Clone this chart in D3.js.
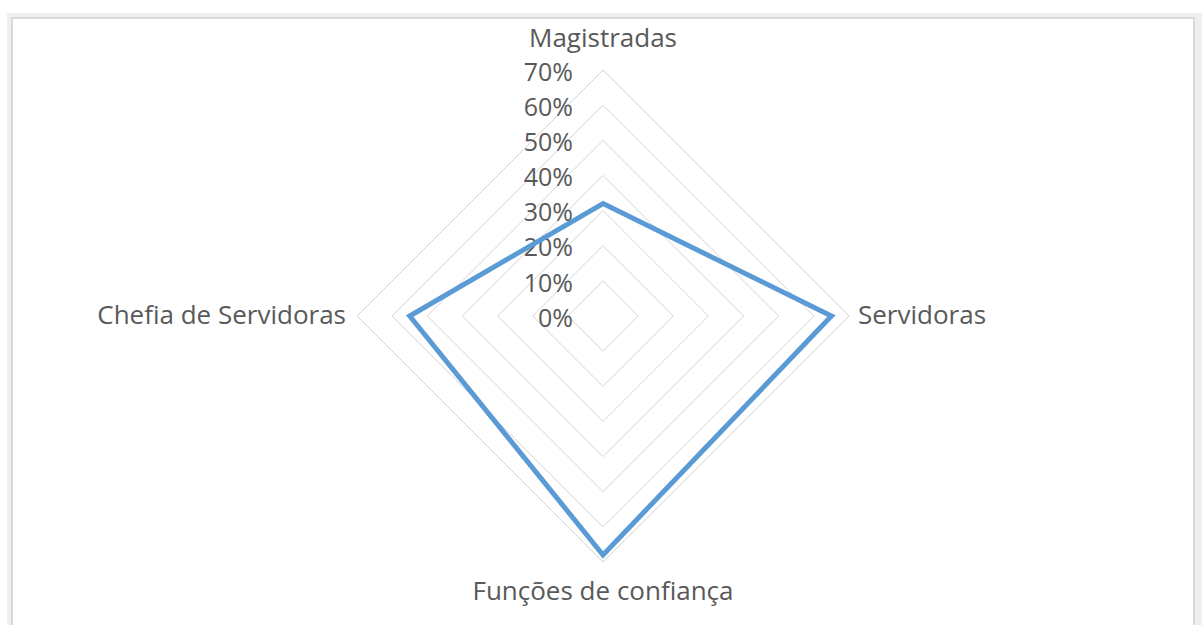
<!DOCTYPE html>
<html>
<head>
<meta charset="utf-8">
<script src="https://cdn.jsdelivr.net/npm/d3@7"></script>
<style>
  body {margin: 0; background: #fff;}
  svg {display: block;}
  text {font-family: "Open Sans", Lato, sans-serif; fill: #595959;}
</style>
</head>
<body>
<script>
const categories = ['Magistradas', 'Servidoras', 'Funções de confiança', 'Chefia de Servidoras']
const values = [0.32, 0.65, 0.68, 0.55]
const ticks = [0, 0.1, 0.2, 0.3, 0.4, 0.5, 0.6, 0.7]

const svgWidth = 1202
const svgHeight = 625
const svg = d3.select('body').append('svg')
  .attr('width', svgWidth).attr('height', svgHeight)

// frame
svg.append('rect').attr('x', 7).attr('y', 13).attr('width', 1195).attr('height', 620)
  .attr('fill', '#efefef')
svg.append('rect').attr('x', 12).attr('y', 18).attr('width', 1182).attr('height', 620)
  .attr('fill', '#fff').attr('stroke', '#d9d9d9').attr('stroke-width', 2)

const cx = 603, cy = 316
const r = d3.scaleLinear().domain([0, 0.7]).range([0, 246])
// each category gets its own spoke, clockwise from the top
const a = c => categories.indexOf(c) * 2 * Math.PI / categories.length

const g = svg.append('g').attr('transform', `translate(${cx},${cy})`)

const radial = d3.lineRadial().angle(d => d[0]).radius(d => d[1]).curve(d3.curveLinearClosed)

// grid
g.append('g').selectAll('path').data(ticks.slice(1)).enter().append('path')
  .attr('d', t => radial(categories.map(c => [a(c), r(t)])))
  .attr('fill', 'none').attr('stroke', '#d4d4d4').attr('stroke-width', 1)

// tick labels
g.append('g').selectAll('text').data(ticks).enter().append('text')
  .attr('x', -30).attr('y', t => -r(t) + 4)
  .attr('text-anchor', 'end').attr('dominant-baseline', 'middle')
  .style('font-size', '25px')
  .text(d3.format('.0%'))

// data
g.append('path')
  .attr('d', radial(categories.map((c, i) => [a(c), r(values[i])])))
  .attr('fill', 'none').attr('stroke', '#5b9bd5').attr('stroke-width', 5)
  .attr('stroke-linejoin', 'miter')

// category labels
const labelPos = [
  {x: 0, y: -276, anchor: 'middle'},
  {x: 255, y: 1, anchor: 'start'},
  {x: 0, y: 277, anchor: 'middle'},
  {x: -257, y: 1, anchor: 'end'}
]
g.append('g').selectAll('text').data(categories).enter().append('text')
  .attr('x', (d, i) => labelPos[i].x).attr('y', (d, i) => labelPos[i].y)
  .attr('text-anchor', (d, i) => labelPos[i].anchor)
  .attr('dominant-baseline', 'middle')
  .style('font-size', '26px')
  .text(d => d)
</script>
</body>
</html>
